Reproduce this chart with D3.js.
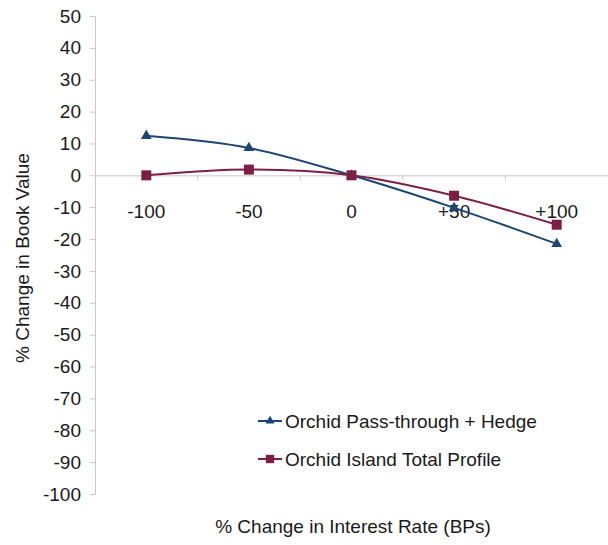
<!DOCTYPE html>
<html>
<head>
<meta charset="utf-8">
<script src="https://cdn.jsdelivr.net/npm/d3@7"></script>
<style>
  body { margin: 0; background: #fff; }
  text { font-family: "Liberation Sans", Arial, sans-serif; fill: #1a1a1a; }
</style>
</head>
<body>
<svg id="chart" width="608" height="545"></svg>
<script>
const categories = ["-100", "-50", "0", "+50", "+100"];
const passThrough = [12.4, 8.6, 0, -10.2, -21.5];
const totalProfile = [0, 1.8, 0, -6.4, -15.5];
const yTicks = d3.range(-100, 51, 10);

const series = [
  { name: "Orchid Pass-through + Hedge", values: passThrough, color: "#1c4574", shape: d3.symbolTriangle },
  { name: "Orchid Island Total Profile", values: totalProfile, color: "#7b2044", shape: d3.symbolSquare }
];

const svg = d3.select("#chart");
const plotLeft = 95, plotRight = 608, plotTop = 16, plotBottom = 494;
const fontSize = 19;

const x = d3.scaleBand().domain(categories).range([plotLeft, plotRight]);
const y = d3.scaleLinear().domain([-100, 50]).range([plotBottom, plotTop]);

// y axis
const yAxis = svg.append("g")
  .attr("transform", `translate(${plotLeft},0)`)
  .call(d3.axisLeft(y).tickValues(yTicks).tickFormat(d => String(d)).tickSize(5).tickPadding(9));
yAxis.select(".domain").attr("stroke", "#c8c8c8");
yAxis.selectAll(".tick line").attr("stroke", "#c8c8c8");
yAxis.selectAll(".tick text").attr("font-size", fontSize).attr("fill", "#1a1a1a");

// x axis at zero
const xAxis = svg.append("g")
  .attr("transform", `translate(0,${y(0)})`)
  .call(d3.axisBottom(x).tickSize(0).tickPadding(29));
xAxis.select(".domain").attr("stroke", "#c8c8c8");
xAxis.selectAll(".tick text").attr("font-size", fontSize).attr("fill", "#1a1a1a");
// tick marks between categories
svg.append("g").selectAll("line")
  .data(categories.slice(1))
  .join("line")
  .attr("x1", d => x(d)).attr("x2", d => x(d))
  .attr("y1", y(0)).attr("y2", y(0) + 5)
  .attr("stroke", "#c8c8c8");

// lines
const line = d3.line()
  .x((d, i) => x(categories[i]) + x.bandwidth() / 2)
  .y(d => y(d))
  .curve(d3.curveCardinal.tension(0));

const markerSize = s => s === d3.symbolSquare ? 100 : 50;

series.forEach(s => {
  svg.append("path")
    .datum(s.values)
    .attr("d", line)
    .attr("fill", "none")
    .attr("stroke", s.color)
    .attr("stroke-width", 2);
  svg.append("g").selectAll("path")
    .data(s.values)
    .join("path")
    .attr("transform", (d, i) => `translate(${x(categories[i]) + x.bandwidth() / 2},${y(d)})`)
    .attr("d", d3.symbol().type(s.shape).size(markerSize(s.shape)))
    .attr("fill", s.color);
});

// legend
const legend = svg.append("g").attr("transform", "translate(258,421)");
series.forEach((s, i) => {
  const g = legend.append("g").attr("transform", `translate(0,${i * 38})`);
  g.append("line").attr("x1", 0).attr("x2", 24).attr("stroke", s.color).attr("stroke-width", 2);
  g.append("path").attr("transform", "translate(12,0)")
    .attr("d", d3.symbol().type(s.shape).size(markerSize(s.shape) * 0.7))
    .attr("fill", s.color);
  g.append("text").attr("x", 27).attr("dy", "0.35em").attr("font-size", fontSize).text(s.name);
});

// axis titles
svg.append("text")
  .attr("transform", `translate(29,258) rotate(-90)`)
  .attr("text-anchor", "middle")
  .attr("font-size", fontSize)
  .text("% Change in Book Value");

svg.append("text")
  .attr("x", 353).attr("y", 533)
  .attr("text-anchor", "middle")
  .attr("font-size", fontSize)
  .text("% Change in Interest Rate (BPs)");
</script>
</body>
</html>
